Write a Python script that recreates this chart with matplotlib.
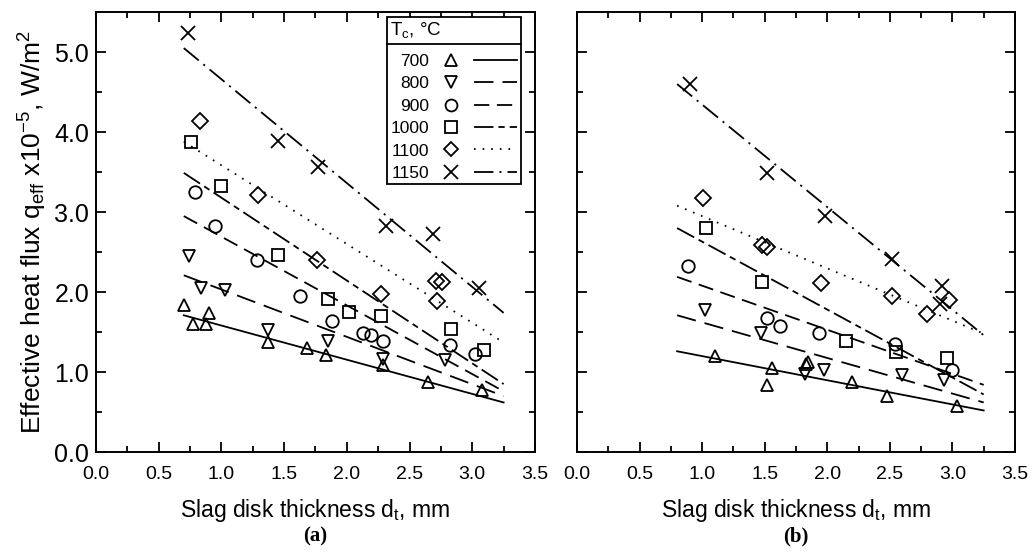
import matplotlib
matplotlib.use("Agg")
import matplotlib.pyplot as plt
from matplotlib.legend_handler import HandlerTuple
from matplotlib.lines import Line2D
from matplotlib.ticker import MultipleLocator, FormatStrFormatter

plt.rcParams["font.family"] = ["Liberation Sans", "DejaVu Sans"]
plt.rcParams["mathtext.fontset"] = "custom"
plt.rcParams["mathtext.rm"] = "Liberation Sans"
plt.rcParams["mathtext.it"] = "Liberation Sans"
plt.rcParams["lines.scale_dashes"] = False

temps = ["700", "800", "900", "1000", "1100", "1150"]
markers = ["^", "v", "o", "s", "D", "x"]
msizes = [9, 9, 9, 8.5, 8, 10]
dashes = [
    (None, None),
    (0, (14, 6.5)),
    (0, (11, 5.5)),
    (0, (14, 3.6, 4.5, 3.6)),
    (0, (1.2, 5.0)),
    (0, (14, 4.3, 1.5, 4.3)),
]

# panel (a) measurements
a_d = {
    "700": [0.70, 0.77, 0.88, 0.90, 1.37, 1.68, 1.83, 2.29, 2.65, 3.08],
    "800": [0.74, 0.84, 1.03, 1.37, 1.85, 2.29, 2.78],
    "900": [0.79, 0.95, 1.28, 1.63, 1.88, 2.13, 2.19, 2.29, 2.82, 3.02],
    "1000": [0.76, 1.00, 1.45, 1.85, 2.02, 2.27, 2.83, 3.09],
    "1100": [0.83, 1.29, 1.76, 2.27, 2.71, 2.76, 2.72],
    "1150": [0.73, 1.45, 1.77, 2.31, 2.69, 3.05],
}
a_q = {
    "700": [1.84, 1.60, 1.60, 1.74, 1.38, 1.30, 1.21, 1.09, 0.88, 0.78],
    "800": [2.45, 2.05, 2.03, 1.52, 1.39, 1.16, 1.15],
    "900": [3.25, 2.82, 2.40, 1.95, 1.64, 1.49, 1.46, 1.39, 1.34, 1.23],
    "1000": [3.87, 3.33, 2.46, 1.91, 1.75, 1.70, 1.54, 1.27],
    "1100": [4.14, 3.21, 2.40, 1.98, 2.14, 2.13, 1.89],
    "1150": [5.24, 3.89, 3.56, 2.83, 2.72, 2.05],
}
a_fit_d = [0.70, 3.25]
a_fit_q = {
    "700": [1.71, 0.62],
    "800": [2.21, 0.70],
    "900": [2.95, 0.76],
    "1000": [3.49, 0.85],
    "1100": [3.88, 1.37],
    "1150": [5.05, 1.74],
}

# panel (b) measurements
b_d = {
    "700": [1.10, 1.56, 1.52, 1.83, 1.85, 2.20, 2.48, 3.04],
    "800": [1.02, 1.47, 1.82, 1.97, 2.60, 2.93],
    "900": [0.89, 1.52, 1.62, 1.93, 2.54, 3.00],
    "1000": [1.03, 1.48, 2.15, 2.55, 2.96],
    "1100": [1.01, 1.48, 1.52, 1.95, 2.52, 2.80, 2.97],
    "1150": [0.90, 1.52, 1.98, 2.52, 2.92, 2.90],
}
b_q = {
    "700": [1.20, 1.05, 0.84, 1.10, 1.12, 0.88, 0.70, 0.57],
    "800": [1.77, 1.49, 0.98, 1.03, 0.96, 0.90],
    "900": [2.33, 1.67, 1.58, 1.49, 1.35, 1.03],
    "1000": [2.80, 2.12, 1.39, 1.25, 1.17],
    "1100": [3.18, 2.59, 2.56, 2.11, 1.95, 1.72, 1.90],
    "1150": [4.60, 3.49, 2.95, 2.41, 2.08, 1.85],
}
b_fit_d = [0.80, 3.25]
b_fit_q = {
    "700": [1.26, 0.52],
    "800": [1.71, 0.62],
    "900": [2.19, 0.84],
    "1000": [2.80, 0.72],
    "1100": [3.08, 1.48],
    "1150": [4.60, 1.46],
}

fig = plt.figure(figsize=(10.32, 5.54), dpi=100)
ax_a = fig.add_axes([0.093, 0.184, 0.4254, 0.7942])
ax_b = fig.add_axes([0.5591, 0.184, 0.4244, 0.7942])


def draw_panel(ax, ds, qs, fit_d, fit_q):
    for t, m, ms, ls in zip(temps, markers, msizes, dashes):
        ax.plot(fit_d, fit_q[t], color="black", lw=1.3, linestyle="-" if ls[0] is None else ls)
        ax.plot(ds[t], qs[t], linestyle="none", marker=m, ms=ms, mfc="none",
                mec="black", mew=1.3)
    ax.set_xlim(0, 3.5)
    ax.set_ylim(0, 5.5)
    ax.xaxis.set_major_locator(MultipleLocator(0.5))
    ax.xaxis.set_minor_locator(MultipleLocator(0.25))
    ax.yaxis.set_major_locator(MultipleLocator(1.0))
    ax.yaxis.set_minor_locator(MultipleLocator(0.5))
    ax.xaxis.set_major_formatter(FormatStrFormatter("%.1f"))
    ax.yaxis.set_major_formatter(FormatStrFormatter("%.1f"))
    ax.tick_params(which="both", direction="in", top=True, right=True, width=1.3)
    ax.tick_params(which="major", length=7)
    ax.tick_params(which="minor", length=4)
    ax.tick_params(axis="x", labelsize=14, pad=10)
    ax.tick_params(axis="y", labelsize=18, pad=5)
    for s in ax.spines.values():
        s.set_linewidth(1.4)
    ax.set_xlabel("Slag disk thickness d$_\\mathrm{t}$, mm", fontsize=16.5, labelpad=10)


draw_panel(ax_a, a_d, a_q, a_fit_d, a_fit_q)
draw_panel(ax_b, b_d, b_q, b_fit_d, b_fit_q)
ax_b.tick_params(labelleft=False)
ax_a.set_ylabel("Effective heat flux q$_\\mathrm{eff}$ x10$^{-5}$, W/m$^2$",
                fontsize=19, labelpad=4)

for ax, tag in ((ax_a, "(a)"), (ax_b, "(b)")):
    ax.text(0.5, -0.17, tag, transform=ax.transAxes, ha="center", va="top",
            fontsize=15, fontweight="bold", family="Liberation Serif")

handles = []
for m, ms, ls in zip(markers, msizes, dashes):
    mk = Line2D([], [], linestyle="none", marker=m, ms=ms * 0.95, mfc="none", mec="black", mew=1.3)
    ln = Line2D([], [], color="black", lw=1.3, linestyle="-" if ls[0] is None else ls)
    handles.append((mk, ln))

leg = ax_a.legend(handles, temps, handler_map={tuple: HandlerTuple(ndivide=None, pad=0.05)},
                  title="T$_\\mathrm{c}$, °C", alignment="left", markerfirst=False,
                  loc="upper right", bbox_to_anchor=(0.968, 0.989), borderaxespad=0,
                  fontsize=12.5, title_fontsize=13.5,
                  handlelength=5.1, handletextpad=0.0,
                  labelspacing=0.42, borderpad=0.2, fancybox=False, framealpha=1,
                  edgecolor="black", numpoints=1)
leg.get_frame().set_linewidth(1.3)
# extra room between the title row and the first entry
leg._legend_box.sep = 9.5

fig.canvas.draw()
fr = leg.get_frame().get_window_extent()
tt = leg.get_title().get_window_extent()
ysep = tt.y0 - 4
inv = fig.transFigure.inverted()
(x0, y0) = inv.transform((fr.x0, ysep))
(x1, _) = inv.transform((fr.x1, ysep))
fig.add_artist(Line2D([x0, x1], [y0, y0], transform=fig.transFigure, color="black", lw=1.3))

fig.savefig("out.png", dpi=100)
